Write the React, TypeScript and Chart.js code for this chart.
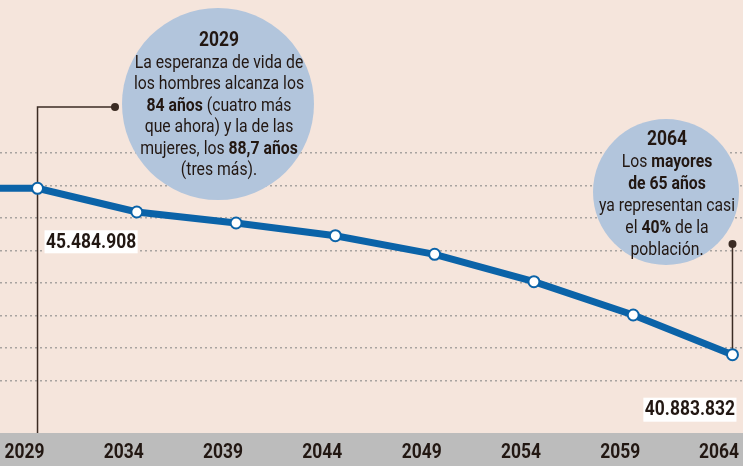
import React, { useEffect, useRef } from 'react';
import { Chart, registerables } from 'chart.js';

Chart.register(...registerables);

// ---- data ----
const years = [2024, 2029, 2034, 2039, 2044, 2049, 2054, 2059, 2064];
const population = [45495000, 45484908, 44830000, 44525000, 44174000, 43660000, 42902000, 41981000, 40883832];
const tickYears = [2029, 2034, 2039, 2044, 2049, 2054, 2059, 2064];
const guideValues = [46461000, 45562000, 44664000, 43765000, 42866000, 41968000, 41069000, 40170000];
const firstValueLabel = '45.484.908';
const lastValueLabel = '40.883.832';

type Seg = [string, boolean];
const note2029Title = '2029';
const note2029Lines: Seg[][] = [
  [['La esperanza de vida de', false]],
  [['los hombres alcanza los', false]],
  [['84 años', true], [' (cuatro más', false]],
  [['que ahora) y la de las', false]],
  [['mujeres, los ', false], ['88,7 años', true]],
  [['(tres más).', false]],
];
const note2064Title = '2064';
const note2064Lines: Seg[][] = [
  [['Los ', false], ['mayores', true]],
  [['de 65 años', true]],
  [['ya representan casi', false]],
  [['el ', false], ['40%', true], [' de la', false]],
  [['población.', false]],
];

const FONT = 'Roboto, "Noto Sans", sans-serif';
const SQUEEZE = 0.83;
const BG = '#f5e5dc';
const BAND = '#bcbcbc';
const BLUE = '#0b63a8';
const CIRCLE = '#b2c5dc';
const INK = '#221712';
const LEADER = '#3b2b23';

function font(size: number, bold: boolean) {
  return `${bold ? 'bold ' : ''}${size}px ${FONT}`;
}

function textW(ctx: CanvasRenderingContext2D, t: string, size: number, bold: boolean) {
  ctx.font = font(size, bold);
  return ctx.measureText(t).width * SQUEEZE;
}

// draws text with its left edge at x, vertical middle at y, horizontally condensed
function drawSqueezed(ctx: CanvasRenderingContext2D, t: string, x: number, y: number, size: number, bold: boolean) {
  ctx.save();
  ctx.font = font(size, bold);
  ctx.textAlign = 'left';
  ctx.textBaseline = 'middle';
  ctx.fillStyle = INK;
  ctx.translate(x, y);
  ctx.scale(SQUEEZE, 1);
  ctx.fillText(t, 0, 0);
  ctx.restore();
}

function drawRich(ctx: CanvasRenderingContext2D, segs: Seg[], cx: number, y: number, size: number) {
  const widths = segs.map(([t, b]) => textW(ctx, t, size, b));
  const total = widths.reduce((a, b) => a + b, 0);
  let x = cx - total / 2;
  segs.forEach(([t, b], i) => {
    drawSqueezed(ctx, t, x, y, size, b);
    x += widths[i];
  });
}

function dot(ctx: CanvasRenderingContext2D, x: number, y: number) {
  ctx.beginPath();
  ctx.arc(x, y, 4, 0, Math.PI * 2);
  ctx.fillStyle = LEADER;
  ctx.fill();
}

const decor = {
  id: 'decor',
  beforeDraw(chart: any) {
    const { ctx, width, height, chartArea } = chart;
    ctx.save();
    ctx.fillStyle = BG;
    ctx.fillRect(0, 0, width, height);
    ctx.fillStyle = BAND;
    ctx.fillRect(0, chartArea.bottom, width, height - chartArea.bottom);
    ctx.restore();
  },
  beforeDatasetsDraw(chart: any) {
    const { ctx, chartArea } = chart;
    const xs = chart.scales.x;
    const ys = chart.scales.y;
    const x1 = xs.getPixelForValue(years[1]);
    const xN = xs.getPixelForValue(years[years.length - 1]);
    const yN = ys.getPixelForValue(population[population.length - 1]);
    ctx.save();
    // x tick labels in the grey band
    const bandMid = (chartArea.bottom + chart.height) / 2 + 3;
    xs.ticks.forEach((tk: any) => {
      const label = String(tk.value);
      const w = textW(ctx, label, 21, true);
      const cx = xs.getPixelForValue(tk.value) - 13;
      drawSqueezed(ctx, label, Math.min(cx - w / 2, chart.width - w - 4), bandMid, 21, true);
    });
    // leader 1
    ctx.strokeStyle = LEADER;
    ctx.lineWidth = 1.5;
    ctx.beginPath();
    ctx.moveTo(x1, chartArea.bottom);
    ctx.lineTo(x1, 107);
    ctx.lineTo(115, 107);
    ctx.stroke();
    dot(ctx, 115, 107);
    // leader 2
    ctx.beginPath();
    ctx.moveTo(xN, 244);
    ctx.lineTo(xN, yN);
    ctx.stroke();
    dot(ctx, xN, 244);
    // circles
    ctx.fillStyle = CIRCLE;
    ctx.beginPath();
    ctx.arc(218, 104, 96, 0, Math.PI * 2);
    ctx.fill();
    ctx.beginPath();
    ctx.arc(666, 192, 73, 0, Math.PI * 2);
    ctx.fill();
    // texts
    drawRich(ctx, [[note2029Title, true]], 219, 41, 21);
    note2029Lines.forEach((l, i) => drawRich(ctx, l, 219, 63 + i * 21.5, 19));
    drawRich(ctx, [[note2064Title, true]], 667, 139.5, 21);
    note2064Lines.forEach((l, i) => drawRich(ctx, l, 667, 162 + i * 22, 19));
    ctx.restore();
  },
  afterDatasetsDraw(chart: any) {
    const { ctx } = chart;
    const xs = chart.scales.x;
    const ys = chart.scales.y;
    const x1 = xs.getPixelForValue(years[1]);
    const y1 = ys.getPixelForValue(population[1]);
    const xN = xs.getPixelForValue(years[years.length - 1]);
    const yN = ys.getPixelForValue(population[population.length - 1]);
    ctx.save();
    // first label
    let w = textW(ctx, firstValueLabel, 21, true);
    const left = x1 + 7;
    let top = y1 + 42;
    ctx.fillStyle = '#ffffff';
    ctx.fillRect(left, top, w + 3, 23);
    drawSqueezed(ctx, firstValueLabel, left + 1.5, top + 12, 21, true);
    // last label
    w = textW(ctx, lastValueLabel, 21, true);
    const right = xN + 4;
    top = yN + 43;
    ctx.fillStyle = '#ffffff';
    ctx.fillRect(right - w - 3, top, w + 3, 24);
    drawSqueezed(ctx, lastValueLabel, right - w - 1.5, top + 12.5, 21, true);
    ctx.restore();
  },
};

export default function App() {
  const ref = useRef<HTMLCanvasElement | null>(null);
  useEffect(() => {
    if (!ref.current) return;
    const chart = new Chart(ref.current, {
      type: 'line',
      data: {
        datasets: [
          {
            data: years.map((yr, i) => ({ x: yr, y: population[i] })),
            borderColor: BLUE,
            borderWidth: 7,
            tension: 0,
            pointRadius: 5.5,
            pointBorderWidth: 2,
            pointBackgroundColor: '#ffffff',
            pointBorderColor: BLUE,
            fill: false,
          },
        ],
      },
      options: {
        animation: false,
        responsive: false,
        devicePixelRatio: 1,
        layout: { padding: 0, autoPadding: false },
        plugins: { legend: { display: false }, tooltip: { enabled: false } },
        events: [],
        scales: {
          x: {
            type: 'linear',
            min: 2027.11,
            max: 2064.53,
            grid: { display: false },
            border: { display: false },
            afterBuildTicks: (scale: any) => {
              scale.ticks = tickYears.map((v) => ({ value: v }));
            },
            afterFit: (scale: any) => {
              scale.height = 33;
              scale.paddingLeft = 0;
              scale.paddingRight = 0;
            },
            ticks: {
              autoSkip: false,
              maxRotation: 0,
              color: 'rgba(0,0,0,0)',
              font: { family: FONT, size: 21, weight: 'bold' },
              callback: (v: any) => String(v),
            },
          },
          y: {
            min: 38718708,
            max: 50691591,
            afterBuildTicks: (scale: any) => {
              scale.ticks = guideValues.map((v) => ({ value: v }));
            },
            afterFit: (scale: any) => {
              scale.width = 0;
              scale.paddingTop = 0;
              scale.paddingBottom = 0;
            },
            ticks: { display: false },
            grid: { color: '#a8a3a0', lineWidth: 1.5, drawTicks: false },
            border: { display: false, dash: [2, 3] },
          },
        },
      },
      plugins: [decor],
    } as any);
    return () => chart.destroy();
  }, []);
  return (
    <div style={{ position: 'fixed', left: 0, top: 0, width: 743, height: 466 }}>
      <canvas ref={ref} width={743} height={466} style={{ display: 'block', width: 743, height: 466 }} />
    </div>
  );
}
